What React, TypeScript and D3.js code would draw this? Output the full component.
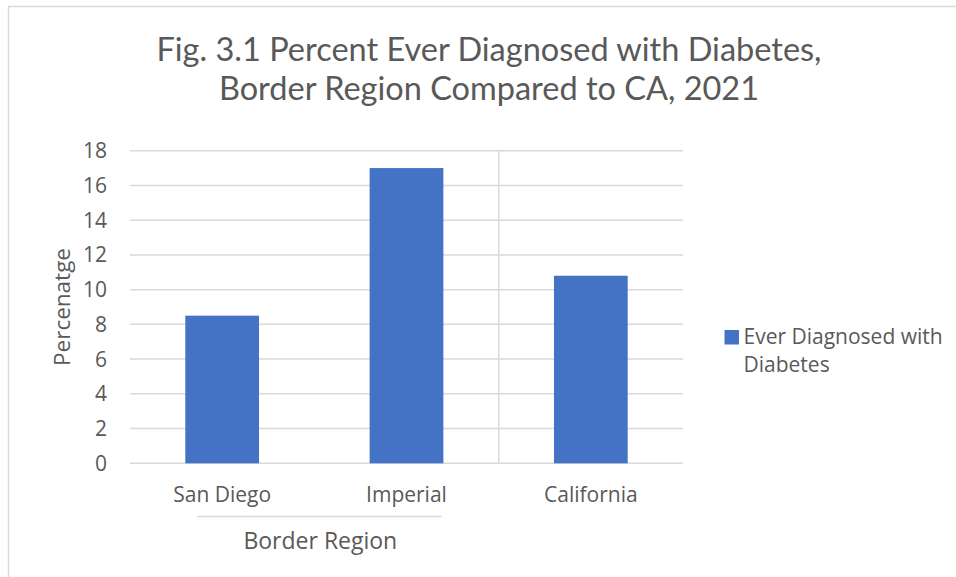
import { useRef, useEffect } from "react";
import * as d3 from "d3";

const categories = ["San Diego", "Imperial", "California"];
const values = [8.5, 17.0, 10.8];
const yTicks = [0, 2, 4, 6, 8, 10, 12, 14, 16, 18];
const titleLines = ["Fig. 3.1 Percent Ever Diagnosed with Diabetes,", "Border Region Compared to CA, 2021"];
const seriesName = ["Ever Diagnosed with", "Diabetes"];
const groupLabel = "Border Region";
const groupMembers = ["San Diego", "Imperial"];

const W = 956;
const H = 577;
const FONT = "'Open Sans', 'Noto Sans', sans-serif";
const TITLE_FONT = "Lato, 'Open Sans', sans-serif";
const TEXT = "#595959";
const GRID = "#d9d9d9";
const BAR = "#4472C4";

export default function App() {
  const ref = useRef<SVGSVGElement>(null);

  useEffect(() => {
    document.body.style.margin = "0";
    const svg = d3.select(ref.current);
    svg.selectAll("*").remove();

    const left = 130, right = 683, top = 150.7, bottom = 463.3;

    const x = d3.scaleBand<string>().domain(categories).range([left, right]).paddingInner(0.6).paddingOuter(0.3);
    const y = d3.scaleLinear().domain([0, 18]).range([bottom, top]);

    // chart border
    svg.append("rect").attr("x", 8.5).attr("y", 6.5).attr("width", W + 10).attr("height", H + 10)
      .attr("fill", "none").attr("stroke", GRID).attr("stroke-width", 1.5);

    // title
    svg.append("g").selectAll("text").data(titleLines).join("text")
      .attr("x", 489).attr("y", (d, i) => 61 + i * 39)
      .attr("text-anchor", "middle").attr("font-family", TITLE_FONT).attr("font-size", 32.5)
      .attr("fill", TEXT).text(d => d);

    // gridlines
    svg.append("g").selectAll("line").data(yTicks).join("line")
      .attr("x1", left).attr("x2", right)
      .attr("y1", d => y(d)).attr("y2", d => y(d))
      .attr("stroke", GRID).attr("stroke-width", 1.5);

    // y tick labels
    svg.append("g").selectAll("text").data(yTicks).join("text")
      .attr("x", 107).attr("y", d => y(d)).attr("dy", "0.36em")
      .attr("text-anchor", "end").attr("font-family", FONT).attr("font-size", 21)
      .attr("fill", TEXT).text(d => d);

    // y axis title
    svg.append("text")
      .attr("transform", `translate(70,307) rotate(-90)`)
      .attr("text-anchor", "middle").attr("font-family", FONT).attr("font-size", 22.5)
      .attr("fill", TEXT).text("Percenatge");

    // separator between border region group and California
    const step = x.step();
    const sepX = (x(groupMembers[groupMembers.length - 1])! + x.bandwidth() / 2) + step / 2;
    svg.append("line").attr("x1", sepX).attr("x2", sepX).attr("y1", top).attr("y2", bottom)
      .attr("stroke", GRID).attr("stroke-width", 1.5);

    // bars
    svg.append("g").selectAll("rect").data(values).join("rect")
      .attr("x", (d, i) => x(categories[i])!)
      .attr("width", x.bandwidth())
      .attr("y", d => y(d))
      .attr("height", d => y(0) - y(d))
      .attr("fill", BAR);

    // category labels
    svg.append("g").selectAll("text").data(categories).join("text")
      .attr("x", d => x(d)! + x.bandwidth() / 2).attr("y", 502)
      .attr("text-anchor", "middle").attr("font-family", FONT).attr("font-size", 21)
      .attr("fill", TEXT).text(d => d);

    // group line + label
    const g0 = x(groupMembers[0])! + x.bandwidth() / 2;
    const g1 = x(groupMembers[groupMembers.length - 1])! + x.bandwidth() / 2;
    svg.append("line").attr("x1", g0 - 25).attr("x2", g1 + 35).attr("y1", 516.5).attr("y2", 516.5)
      .attr("stroke", GRID).attr("stroke-width", 1.5);
    svg.append("text").attr("x", (g0 + g1) / 2 + 6).attr("y", 549)
      .attr("text-anchor", "middle").attr("font-family", FONT).attr("font-size", 23)
      .attr("fill", TEXT).text(groupLabel);

    // legend
    const lg = svg.append("g");
    lg.append("rect").attr("x", 724.5).attr("y", 330).attr("width", 14.5).attr("height", 14.5).attr("fill", BAR);
    lg.selectAll("text").data(seriesName).join("text")
      .attr("x", 743.5).attr("y", (d, i) => 344 + i * 28)
      .attr("font-family", FONT).attr("font-size", 21)
      .attr("fill", TEXT).text(d => d);
  }, []);

  return <svg ref={ref} width={W} height={H} style={{ display: "block", background: "#fff" }} />;
}
